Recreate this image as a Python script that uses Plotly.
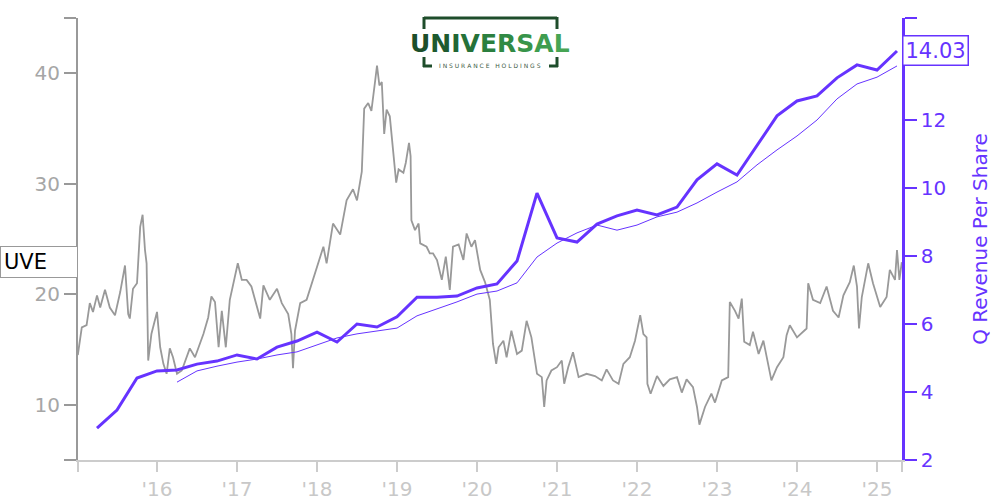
import plotly.graph_objects as go

# ---------------- data ----------------
price_t = [2015.01, 2015.06, 2015.12, 2015.16, 2015.20, 2015.25, 2015.29, 2015.35, 2015.41, 2015.475,
           2015.54, 2015.60, 2015.64, 2015.66, 2015.70, 2015.75, 2015.79, 2015.82, 2015.85, 2015.87,
           2015.89, 2015.93, 2016.00, 2016.04, 2016.08, 2016.12, 2016.16, 2016.20, 2016.25, 2016.31,
           2016.41, 2016.475, 2016.58, 2016.64, 2016.68, 2016.725, 2016.77, 2016.81, 2016.86, 2016.91,
           2017.01, 2017.06, 2017.12, 2017.18, 2017.29, 2017.33, 2017.41, 2017.50, 2017.56, 2017.64,
           2017.68, 2017.70, 2017.725, 2017.79, 2017.87, 2017.95, 2018.04, 2018.08, 2018.12, 2018.20,
           2018.29, 2018.37, 2018.45, 2018.50, 2018.56, 2018.59, 2018.64, 2018.68, 2018.725, 2018.75,
           2018.78, 2018.81, 2018.84, 2018.87, 2018.91, 2018.95, 2018.99, 2019.02, 2019.08, 2019.11,
           2019.15, 2019.17, 2019.18, 2019.225, 2019.27, 2019.29, 2019.37, 2019.41, 2019.45, 2019.50,
           2019.56, 2019.61, 2019.66, 2019.70, 2019.77, 2019.83, 2019.87, 2019.93, 2019.975, 2020.04,
           2020.10, 2020.16, 2020.18, 2020.20, 2020.24, 2020.27, 2020.33, 2020.37, 2020.43, 2020.50,
           2020.56, 2020.62, 2020.68, 2020.75, 2020.81, 2020.84, 2020.87, 2020.93, 2021.00, 2021.06,
           2021.09, 2021.14, 2021.20, 2021.27, 2021.37, 2021.475, 2021.56, 2021.62, 2021.70, 2021.77,
           2021.83, 2021.91, 2021.975, 2022.04, 2022.08, 2022.12, 2022.13, 2022.17, 2022.25, 2022.33,
           2022.41, 2022.50, 2022.56, 2022.62, 2022.70, 2022.75, 2022.78, 2022.85, 2022.93, 2022.975,
           2023.06, 2023.14, 2023.16, 2023.225, 2023.27, 2023.31, 2023.34, 2023.41, 2023.45, 2023.52,
           2023.58, 2023.68, 2023.75, 2023.83, 2023.87, 2023.91, 2024.00, 2024.12, 2024.14, 2024.20,
           2024.29, 2024.37, 2024.45, 2024.52, 2024.58, 2024.66, 2024.71, 2024.75, 2024.775, 2024.81,
           2024.89, 2024.95, 2025.04, 2025.12, 2025.16, 2025.225, 2025.25, 2025.28, 2025.31]
price_v = [14.5, 17.0, 17.2, 19.2, 18.4, 19.9, 18.8, 20.4, 18.8, 18.1,
           20.2, 22.6, 18.2, 17.8, 20.5, 21.0, 26.1, 27.2, 24.0, 22.8,
           14.0, 16.4, 18.4, 15.2, 13.7, 12.8, 15.1, 14.3, 12.8, 13.1,
           15.1, 14.3, 16.4, 17.9, 19.8, 19.3, 15.2, 18.5, 15.2, 19.5,
           22.8, 21.3, 21.3, 20.7, 17.8, 20.8, 19.5, 20.5, 19.2, 18.2,
           16.4, 13.3, 16.7, 19.2, 19.5, 21.3, 23.4, 24.3, 22.8, 26.4,
           25.4, 28.5, 29.5, 28.5, 31.1, 36.8, 37.3, 36.6, 39.2, 40.7,
           38.9, 39.2, 34.5, 36.7, 36.1, 33.1, 30.1, 31.3, 31.0, 31.9,
           33.7, 32.5, 26.7, 25.8, 26.4, 24.6, 24.3, 23.7, 23.7, 23.1,
           21.3, 23.4, 20.4, 24.3, 24.5, 23.1, 25.5, 24.3, 24.9, 22.2,
           21.1, 19.5, 17.6, 15.5, 13.7, 15.2, 15.8, 14.3, 16.7, 14.6,
           14.9, 17.6, 16.1, 12.8, 12.5, 9.8, 12.2, 13.1, 13.4, 14.0,
           11.9, 13.4, 14.75, 12.5, 12.8, 12.6, 12.2, 13.2, 12.2, 11.9,
           13.7, 14.3, 15.8, 18.1, 16.4, 16.1, 11.9, 11.0, 12.6, 11.7,
           12.3, 12.5, 11.1, 12.3, 11.6, 9.8, 8.2, 9.8, 11.0, 10.2,
           12.2, 12.5, 19.3, 18.5, 17.8, 19.6, 15.7, 15.4, 16.6, 14.6,
           15.8, 12.2, 13.4, 14.3, 16.3, 17.2, 16.1, 16.9, 21.0, 19.5,
           19.2, 20.7, 18.5, 17.9, 19.9, 21.1, 22.6, 20.7, 16.9, 19.75,
           22.8, 21.0, 18.85, 19.75, 22.2, 21.3, 24.0, 21.3, 22.9]

rev_t = [2015.25, 2015.50, 2015.75, 2016.00, 2016.25, 2016.50, 2016.75, 2017.00, 2017.25, 2017.50,
         2017.75, 2018.00, 2018.25, 2018.50, 2018.75, 2019.00, 2019.25, 2019.50, 2019.75, 2020.00,
         2020.25, 2020.50, 2020.75, 2021.00, 2021.25, 2021.50, 2021.75, 2022.00, 2022.25, 2022.50,
         2022.75, 2023.00, 2023.25, 2023.50, 2023.75, 2024.00, 2024.25, 2024.50, 2024.75, 2025.00,
         2025.25]
rev_q = [2.94, 3.47, 4.41, 4.62, 4.65, 4.82, 4.91, 5.09, 4.97, 5.32,
         5.50, 5.76, 5.47, 6.00, 5.91, 6.21, 6.79, 6.79, 6.82, 7.06,
         7.18, 7.85, 9.85, 8.53, 8.41, 8.94, 9.18, 9.35, 9.21, 9.44,
         10.24, 10.71, 10.38, 11.24, 12.12, 12.56, 12.71, 13.24, 13.62, 13.47,
         14.03]

avg_t = rev_t[4:]
rev_avg = [4.29, 4.62, 4.76, 4.88, 4.97, 5.09, 5.18, 5.38, 5.59, 5.71,
           5.79, 5.88, 6.24, 6.44, 6.65, 6.88, 6.97, 7.21, 7.97, 8.38,
           8.68, 8.91, 8.76, 8.91, 9.15, 9.29, 9.56, 9.88, 10.18, 10.68,
           11.12, 11.53, 12.00, 12.62, 13.06, 13.26, 13.59]

assert len(price_t) == len(price_v)
assert len(rev_t) == len(rev_q)
assert len(avg_t) == len(rev_avg)

x_ticks = [2016, 2017, 2018, 2019, 2020, 2021, 2022, 2023, 2024, 2025]
x_labels = ["'16", "'17", "'18", "'19", "'20", "'21", "'22", "'23", "'24", "'25"]
x_range = [2015.0125, 2025.3125]
left_ticks = [10, 20, 30, 40]
right_ticks = [2, 4, 6, 8, 10, 12]
ticker = "UVE"

PURPLE = "#6633ff"
GREY = "#999999"
LIGHT = "#cccccc"
FONT = "DejaVu Sans"

fig = go.Figure()
fig.add_trace(go.Scatter(x=price_t, y=price_v, mode="lines",
                         line=dict(color=GREY, width=1.8), yaxis="y", showlegend=False))
fig.add_trace(go.Scatter(x=avg_t, y=rev_avg, mode="lines",
                         line=dict(color=PURPLE, width=1), yaxis="y2", showlegend=False))
fig.add_trace(go.Scatter(x=rev_t, y=rev_q, mode="lines",
                         line=dict(color=PURPLE, width=3), yaxis="y2", showlegend=False))

fig.update_layout(
    width=1000, height=500,
    margin=dict(l=78, r=98, t=18, b=40, autoexpand=False),
    paper_bgcolor="white", plot_bgcolor="white",
    font=dict(family=FONT),
    xaxis=dict(range=x_range, automargin=False,
               tickvals=[x_range[0]] + x_ticks + [x_range[1]],
               ticktext=[""] + x_labels + [""],
               showgrid=False, zeroline=False,
               showline=True, linecolor=LIGHT, linewidth=2,
               ticks="outside", ticklen=10, tickwidth=2, tickcolor=LIGHT,
               tickfont=dict(size=20, color="#c8c8c8")),
    yaxis=dict(range=[5, 45], automargin=False,
               tickvals=[5] + left_ticks + [45],
               ticktext=[""] + [str(v) for v in left_ticks] + [""],
               showgrid=False, zeroline=False,
               showline=True, linecolor=GREY, linewidth=2,
               ticks="outside", ticklen=12, tickwidth=2, tickcolor=GREY,
               tickfont=dict(size=20, color="#a6a6a6")),
    yaxis2=dict(range=[2, 15], overlaying="y", side="right", anchor="x", automargin=False,
                tickvals=right_ticks + [15],
                ticktext=[str(v) for v in right_ticks] + [""],
                showgrid=False, zeroline=False,
                showline=True, linecolor=PURPLE, linewidth=2.5,
                ticks="outside", ticklen=12, tickwidth=2, tickcolor=PURPLE,
                tickfont=dict(size=20, color=PURPLE),
                title=dict(text="Q Revenue Per Share", font=dict(size=20, color=PURPLE),
                           standoff=28)),
)

# last-value labels
fig.add_annotation(xref="paper", yref="y", x=-78 / 824, y=price_v[-1], xanchor="left",
                   yanchor="middle", text=ticker, showarrow=False, align="left",
                   font=dict(size=21, color="black"), bgcolor="white",
                   bordercolor=GREY, borderwidth=1, borderpad=3, width=70)
fig.add_annotation(xref="paper", yref="y2", x=1.0, y=rev_q[-1], xanchor="left",
                   yanchor="middle", text=f"{rev_q[-1]:.2f}", showarrow=False,
                   font=dict(size=21, color=PURPLE), bgcolor="white",
                   bordercolor=PURPLE, borderwidth=1.5, borderpad=2)

# logo (text + bracket shapes)
def px(X):
    return (X - 78) / 824

def py(Y):
    return (460 - Y) / 442

letter_colors = ["#1d4f2b", "#1e5a2f", "#216634", "#257239", "#2b7f3f",
                 "#318a45", "#38944a", "#3f9d4f", "#47a554"]
word = "UNIVERSAL"
logo_text = "".join(f"<span style='color:{c}'>{ch}</span>"
                    for ch, c in zip(word, letter_colors))
fig.add_annotation(xref="paper", yref="paper", x=px(490), y=py(43), xanchor="center",
                   yanchor="middle", text=logo_text, showarrow=False,
                   font=dict(size=25, family="DejaVu Sans", weight="bold"))
fig.add_annotation(xref="paper", yref="paper", x=px(490), y=py(66), xanchor="center",
                   yanchor="middle", text="I N S U R A N C E   H O L D I N G S",
                   showarrow=False, font=dict(size=6, color="#3b5a44"))
logo_green = "#1e4d2b"
segs = [((424, 18), (557, 18)), ((424, 17), (424, 29)), ((557, 17), (557, 29)),
        ((424, 57), (424, 67)), ((423, 66), (432, 66)),
        ((557, 57), (557, 67)), ((549, 66), (558, 66))]
for (x0, y0), (x1, y1) in segs:
    fig.add_shape(type="line", xref="paper", yref="paper",
                  x0=px(x0), y0=py(y0), x1=px(x1), y1=py(y1),
                  line=dict(color=logo_green, width=3))

fig.write_html("out.html", config={"displayModeBar": False},
               post_script="document.body.style.margin='0';document.body.style.overflow='hidden';")
